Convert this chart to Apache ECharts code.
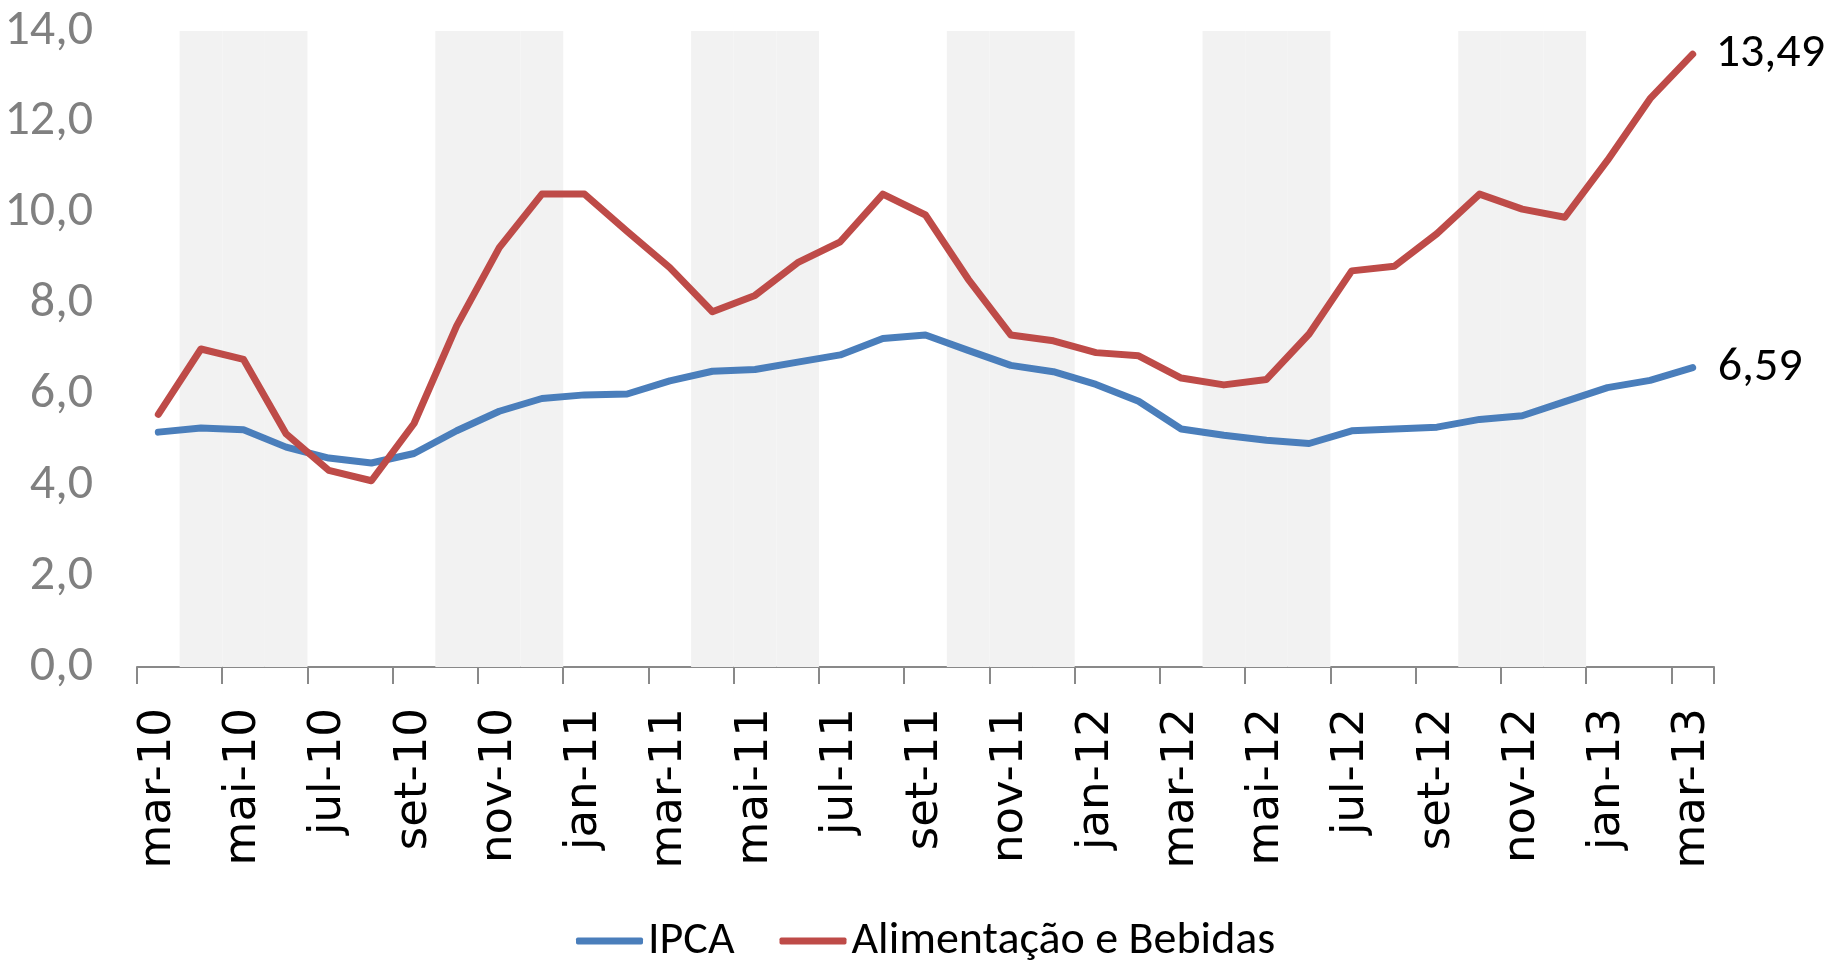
<!DOCTYPE html>
<html>
<head>
<meta charset="utf-8">
<script src="https://cdn.jsdelivr.net/npm/echarts@6/dist/echarts.min.js"></script>
<style>
    html, body { margin: 0; padding: 0; background: #fff; }
    #chart { width: 1826px; height: 967px; }
</style>
</head>
<body>
<div id="chart"></div>
<script>
const months = [
    'mar-10', 'abr-10', 'mai-10', 'jun-10', 'jul-10', 'ago-10', 'set-10', 'out-10', 'nov-10', 'dez-10',
    'jan-11', 'fev-11', 'mar-11', 'abr-11', 'mai-11', 'jun-11', 'jul-11', 'ago-11', 'set-11', 'out-11', 'nov-11', 'dez-11',
    'jan-12', 'fev-12', 'mar-12', 'abr-12', 'mai-12', 'jun-12', 'jul-12', 'ago-12', 'set-12', 'out-12', 'nov-12', 'dez-12',
    'jan-13', 'fev-13', 'mar-13'
];
const ipca = [
    5.17, 5.26, 5.22, 4.84, 4.60, 4.49, 4.70, 5.20, 5.63, 5.91,
    5.99, 6.01, 6.30, 6.51, 6.55, 6.71, 6.87, 7.23, 7.31, 6.97, 6.64, 6.50,
    6.22, 5.85, 5.24, 5.10, 4.99, 4.92, 5.20, 5.24, 5.28, 5.45, 5.53, 5.84,
    6.15, 6.31, 6.59
];
const alimentos = [
    5.56, 7.00, 6.77, 5.13, 4.33, 4.10, 5.36, 7.51, 9.23, 10.41,
    10.41, 9.59, 8.79, 7.82, 8.18, 8.90, 9.36, 10.41, 9.95, 8.54, 7.31, 7.18,
    6.92, 6.85, 6.36, 6.21, 6.33, 7.33, 8.72, 8.82, 9.54, 10.41, 10.08, 9.90,
    11.15, 12.51, 13.49
];
// trimestres sombreados (abr-jun, out-dez)
const shaded = [
    0, 1, 1, 1, 0, 0, 0, 1, 1, 1,
    0, 0, 0, 1, 1, 1, 0, 0, 0, 1, 1, 1,
    0, 0, 0, 1, 1, 1, 0, 0, 0, 1, 1, 1,
    0, 0, 0
];
const yMax = 14;

const calibri = "Carlito, 'Liberation Sans', sans-serif";
const fmt = v => v.toFixed(1).replace('.', ',');

const chart = echarts.init(document.getElementById('chart'));
chart.setOption({
    animation: false,
    backgroundColor: '#ffffff',
    grid: { left: 137, right: 112, top: 31, bottom: 300, outerBoundsMode: 'none' },
    legend: {
        data: ['IPCA', 'Alimentação e Bebidas'],
        left: 571,
        top: 913,
        icon: 'roundRect',
        itemWidth: 67,
        itemHeight: 7,
        itemGap: 45,
        textStyle: { fontFamily: calibri, fontSize: 46, color: '#000' }
    },
    xAxis: {
        type: 'category',
        data: months,
        boundaryGap: true,
        axisLine: { lineStyle: { color: '#898989', width: 2 } },
        axisTick: { show: true, interval: 1, length: 17, lineStyle: { color: '#898989', width: 2 } },
        axisLabel: {
            interval: 1,
            rotate: 90,
            margin: 41,
            color: '#000',
            fontFamily: "'DejaVu Sans', sans-serif",
            fontSize: 45
        },
        splitLine: { show: false }
    },
    yAxis: {
        type: 'value',
        min: 0,
        max: yMax,
        interval: 2,
        axisLine: { show: false },
        axisTick: { show: false },
        splitLine: { show: false },
        axisLabel: {
            margin: 44,
            color: '#808080',
            fontFamily: calibri,
            fontSize: 50,
            formatter: fmt
        }
    },
    series: [
        {
            name: 'sombra',
            type: 'bar',
            data: shaded.map(s => s ? yMax : '-'),
            barWidth: '100%',
            silent: true,
            itemStyle: { color: '#f2f2f2' },
            z: 1
        },
        {
            name: 'IPCA',
            type: 'line',
            data: ipca,
            symbol: 'none',
            lineStyle: { color: '#4a7ebb', width: 7, cap: 'round', join: 'round' },
            itemStyle: { color: '#4a7ebb' },
            endLabel: {
                show: true,
                distance: 25,
                color: '#000',
                fontFamily: calibri,
                fontSize: 48,
                formatter: p => p.value.toFixed(2).replace('.', ',')
            },
            z: 3
        },
        {
            name: 'Alimentação e Bebidas',
            type: 'line',
            data: alimentos,
            symbol: 'none',
            lineStyle: { color: '#be4b48', width: 7, cap: 'round', join: 'round' },
            itemStyle: { color: '#be4b48' },
            endLabel: {
                show: true,
                distance: 23,
                color: '#000',
                fontFamily: calibri,
                fontSize: 48,
                formatter: p => p.value.toFixed(2).replace('.', ',')
            },
            z: 3
        }
    ]
});
window.addEventListener('resize', () => chart.resize());
</script>
</body>
</html>
